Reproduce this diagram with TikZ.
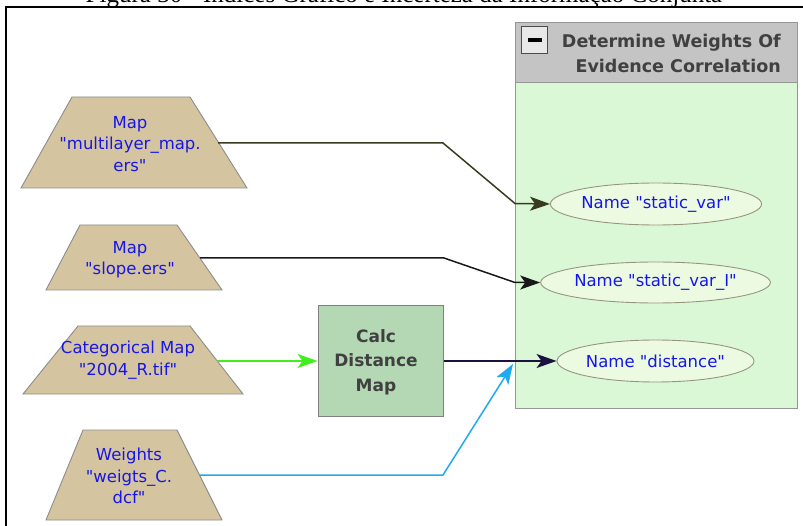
\documentclass[tikz,border=0pt]{standalone}
\usepackage{fontspec}
\usetikzlibrary{arrows.meta,shapes.geometric}
\setmainfont{Liberation Serif}
\newfontfamily\lblfont{DejaVu Sans}
\newfontfamily\capfont{Liberation Serif}

\definecolor{tanfill}{RGB}{213,196,160}
\definecolor{tanedge}{RGB}{140,140,140}
\definecolor{lblblue}{RGB}{22,22,232}
\definecolor{calcfill}{RGB}{180,216,180}
\definecolor{calcedge}{RGB}{128,128,128}
\definecolor{panelfill}{RGB}{218,248,214}
\definecolor{panelhead}{RGB}{196,196,196}
\definecolor{paneledge}{RGB}{150,150,150}
\definecolor{ovalfill}{RGB}{236,250,226}
\definecolor{ovaledge}{RGB}{150,150,128}
\definecolor{headtext}{RGB}{64,64,64}
\definecolor{wireolive}{RGB}{58,58,30}
\definecolor{wireblack}{RGB}{24,24,24}
\definecolor{wiregreen}{RGB}{68,238,30}
\definecolor{wirenavy}{RGB}{28,18,64}
\definecolor{wireblue}{RGB}{30,170,240}

\tikzset{
  x=1pt, y=-1pt,
  srcshape/.style={fill=tanfill, draw=tanedge, line width=0.9pt},
  srctext/.style={font=\lblfont\fontsize{16.5}{21.5}\selectfont, text=lblblue, align=center, inner sep=0pt},
  calcbox/.style={rectangle, fill=calcfill, draw=calcedge, line width=1pt, minimum width=125pt, minimum height=110pt, inner sep=0pt},
  calctext/.style={font=\lblfont\bfseries\fontsize{17}{24.5}\selectfont, text=headtext, align=center, inner sep=0pt},
  oval/.style={ellipse, fill=ovalfill, draw=ovaledge, line width=0.9pt, inner sep=0pt, font=\lblfont\fontsize{16.5}{20}\selectfont, text=lblblue},
  wire/.style={line width=1.5pt, line join=miter, -{Stealth[length=20pt, width=14pt, inset=5pt]}},
}

\begin{document}
\begin{tikzpicture}
\useasboundingbox (0,0) rectangle (803,526);

% caption of the figure, mostly above the frame
\node[anchor=base, inner sep=0pt, font=\capfont\fontsize{25}{30}\selectfont] (caption) at (404,3)
  {Figura 30 - Índices Gráfico e Incerteza da Informação Conjunta};

% outer frame
\draw[line width=2.4pt, line cap=rect] (6,526) -- (6,7) -- (803,7);

% panel "Determine Weights Of Evidence Correlation"
\node[rectangle, anchor=north west, fill=panelfill, draw=paneledge, line width=1pt,
      minimum width=282pt, minimum height=386pt, inner sep=0pt] (panel) at (515,22) {};
\node[rectangle, anchor=north west, fill=panelhead, draw=paneledge, line width=1pt,
      minimum width=282pt, minimum height=60pt, inner sep=0pt] (panelhead) at (515,22) {};
\node[rectangle, fill=black!9, draw=black!70, line width=0.9pt,
      minimum width=26pt, minimum height=27pt, inner sep=0pt] (collapse) at (534.5,40) {};
\fill[black] (528,38) rectangle (541.5,42.5);
\node[anchor=east, inner sep=0pt, align=right, text=headtext,
      font=\lblfont\bfseries\fontsize{17.5}{25}\selectfont] (paneltitle) at (781,53)
  {Determine Weights Of\\Evidence Correlation};

% input maps
\path[srcshape] (72,97) -- (190,97) -- (247,188) -- (21,188) -- cycle;
\node[srctext] (mapmulti) at (130,144) {Map\\"multilayer\_map.\\ers"};
\coordinate (mapmultiout) at (218,143);

\path[srcshape] (80,225) -- (177,225) -- (222,290) -- (46,290) -- cycle;
\node[srctext] (mapslope) at (130,259.5) {Map\\"slope.ers"};
\coordinate (mapslopeout) at (200,258);

\path[srcshape] (78,326) -- (190,326) -- (243,394) -- (23,394) -- cycle;
\node[srctext] (mapcat) at (128,360) {Categorical Map\\"2004\_R.tif"};
\coordinate (mapcatout) at (217,361);

\path[srcshape] (83,430) -- (177,430) -- (222,520) -- (46,520) -- cycle;
\node[srctext] (weights) at (129,476) {Weights\\"weigts\_C.\\dcf"};
\coordinate (weightsout) at (200,475);

% calculation step
\node[calcbox] (calc) at (380.5,361) {};
\node[calctext] (calctxt) at (376,362) {Calc\\Distance\\Map};

% panel inputs
\node[oval, minimum width=210pt, minimum height=42pt] (svar) at (656,204) {Name "static\_var"};
\node[oval, minimum width=227pt, minimum height=41pt] (svarI) at (655.5,282.5) {Name "static\_var\_I"};
\node[oval, minimum width=197pt, minimum height=42pt] (dist) at (655.5,361) {Name "distance"};
\coordinate (distin) at (513,364);

% connectors
\draw[wire, wireolive] (mapmultiout) -- (443,143) -- (515,203.5) -- (svar.west);
\draw[wire, wireblack] (mapslopeout) -- (444,258) -- (515,282.5) -- (svarI.west);
\draw[wire, wiregreen] (mapcatout) -- (calc.west);
\draw[wire, wirenavy] (calc.east) -- (dist.west);
\draw[wire, wireblue] (weightsout) -- (443,475) -- (distin);
\end{tikzpicture}
\end{document}
